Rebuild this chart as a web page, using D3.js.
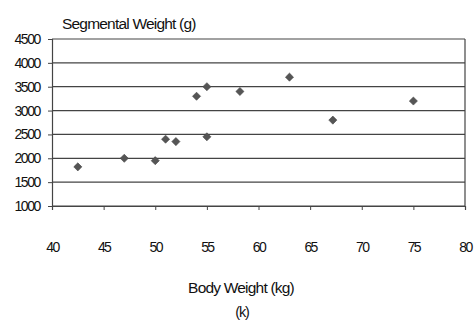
<!DOCTYPE html>
<html><head><meta charset="utf-8">
<script src="https://cdn.jsdelivr.net/npm/d3@7"></script>
<style>
body{margin:0;background:#fff;}
text{font-family:"Liberation Sans",Arial,sans-serif;fill:#111;}
</style></head>
<body><svg id="c" width="474" height="321"></svg>
<script>
const bodyWeight = [42.5, 47, 50, 51, 52, 55, 54, 55, 58.2, 63, 67.2, 75];
const segWeight  = [1820, 2000, 1950, 2400, 2350, 2450, 3300, 3500, 3400, 3700, 2800, 3200];
const xTicks = [40, 45, 50, 55, 60, 65, 70, 75, 80];
const yTicks = [1000, 1500, 2000, 2500, 3000, 3500, 4000, 4500];

const svg = d3.select("#c");
const x = d3.scaleLinear().domain([40, 80]).range([52, 465]);
const y = d3.scaleLinear().domain([1000, 4500]).range([206, 39]);

svg.append("g").selectAll("line").data(yTicks).join("line")
  .attr("x1", x(40)).attr("x2", x(80))
  .attr("y1", d => y(d)).attr("y2", d => y(d))
  .attr("stroke", "#444").attr("stroke-width", 1.2);

svg.append("line").attr("x1", x(80)).attr("x2", x(80)).attr("y1", y(4500)).attr("y2", y(1000))
  .attr("stroke", "#444").attr("stroke-width", 1.2);

const ya = svg.append("g").attr("transform", `translate(${x(40)},0)`)
  .call(d3.axisLeft(y).tickValues(yTicks).tickFormat(d3.format("d")).tickSize(4).tickPadding(8));
ya.select(".domain").attr("stroke", "#444").attr("stroke-width", 1.2);
ya.selectAll(".tick line").attr("stroke", "#444");
ya.selectAll("text").attr("font-size", 14).attr("letter-spacing", "-1.4px").attr("fill", "#111");

const xa = svg.append("g").attr("transform", `translate(0,${y(1000)})`)
  .call(d3.axisBottom(x).tickValues(xTicks).tickFormat(d3.format("d")).tickSize(4).tickPadding(32));
xa.select(".domain").attr("stroke", "#444").attr("stroke-width", 1.2);
xa.selectAll(".tick line").attr("stroke", "#444");
xa.selectAll("text").attr("font-size", 14).attr("letter-spacing", "-1.6px").attr("fill", "#111");

svg.append("g").selectAll("path").data(bodyWeight.map((b, i) => [b, segWeight[i]])).join("path")
  .attr("d", d3.symbol(d3.symbolDiamond2 || d3.symbolDiamond, 42))
  .attr("transform", d => `translate(${x(d[0])},${y(d[1])})`)
  .attr("fill", "#555").attr("stroke", "#444").attr("stroke-width", 0.6);

svg.append("text").attr("x", 62).attr("y", 29).attr("font-size", 15.5)
  .attr("letter-spacing", "-0.8px").text("Segmental Weight (g)");
svg.append("text").attr("x", 241).attr("y", 293).attr("text-anchor", "middle")
  .attr("font-size", 15.5).attr("letter-spacing", "-0.8px").text("Body Weight (kg)");
svg.append("text").attr("x", 242).attr("y", 317).attr("text-anchor", "middle")
  .attr("font-size", 14.5).attr("letter-spacing", "-1.2px").text("(k)");
</script></body></html>
